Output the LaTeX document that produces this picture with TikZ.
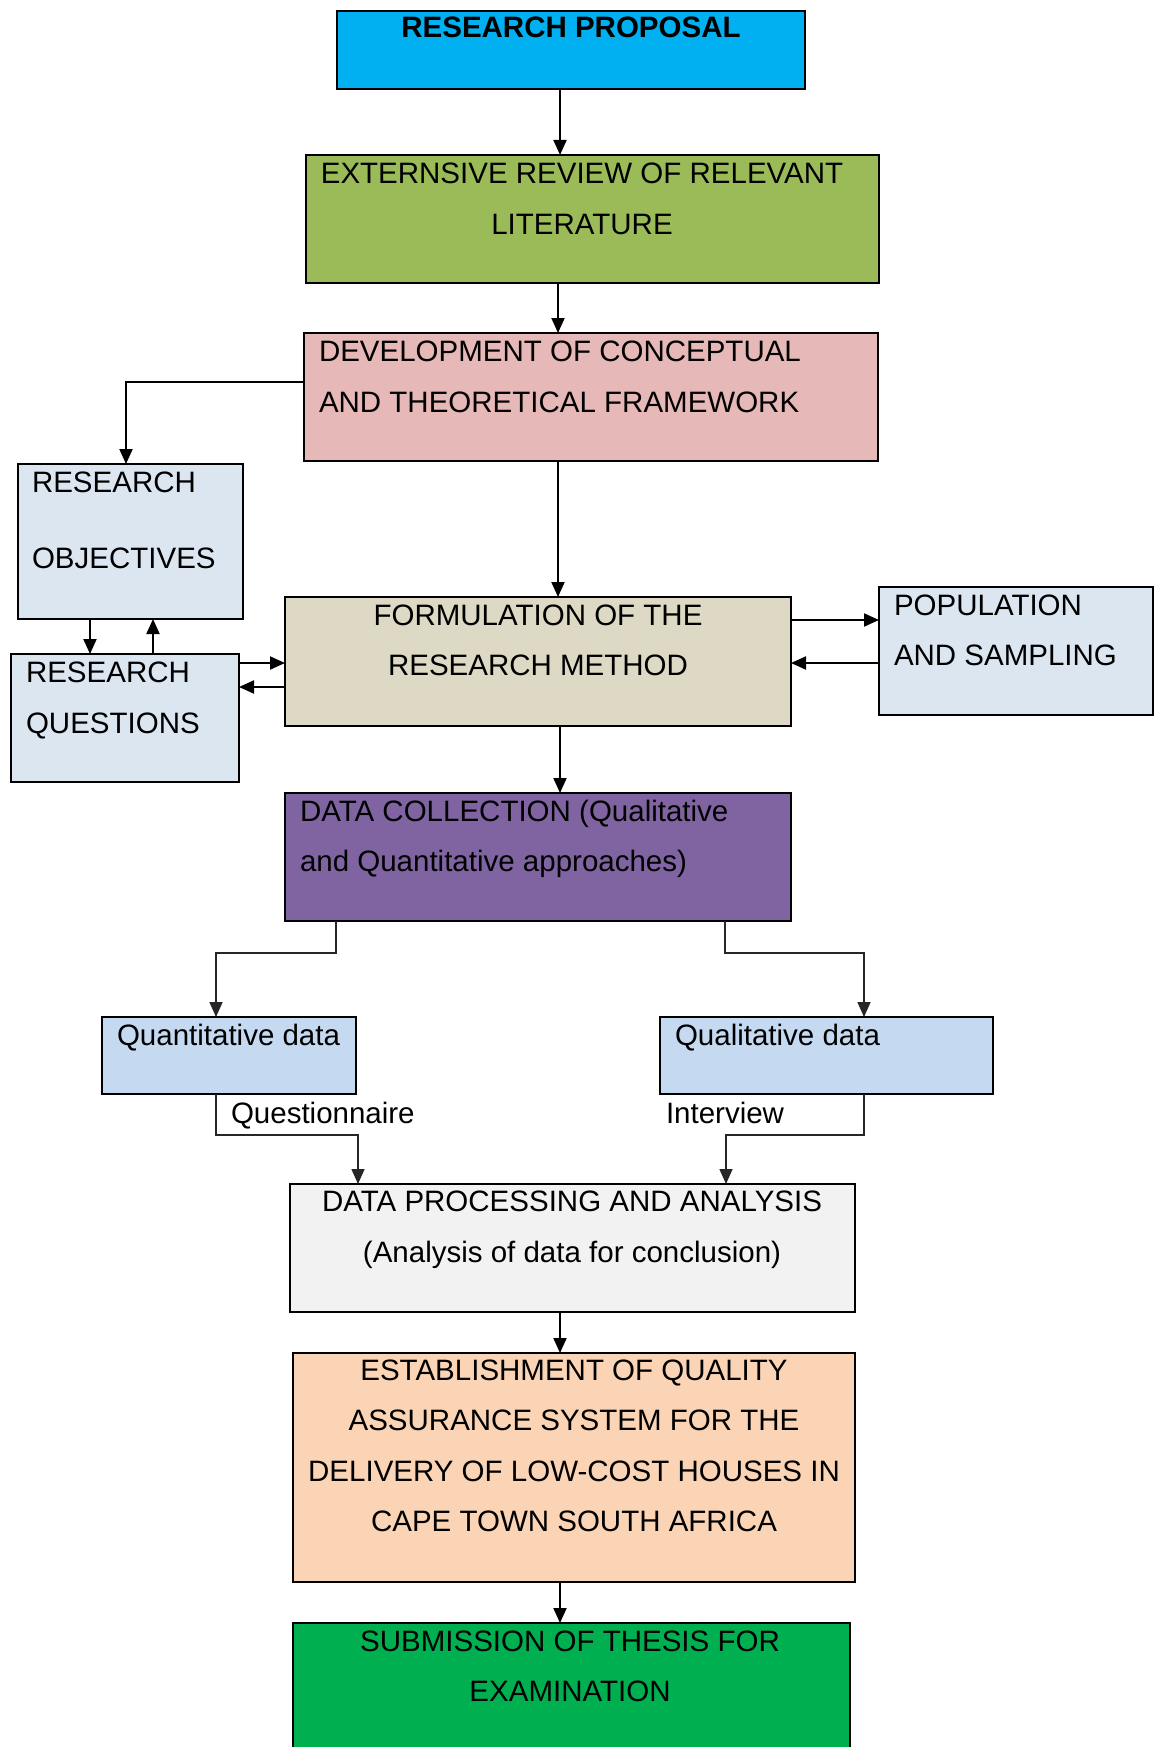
\documentclass[tikz,border=0pt]{standalone}
\usepackage{fontspec}
\setmainfont{Liberation Sans}
\usetikzlibrary{arrows.meta}
\definecolor{cRP}{HTML}{00B0F0}
\definecolor{cLit}{HTML}{9BBB59}
\definecolor{cDev}{HTML}{E6B8B7}
\definecolor{cSide}{HTML}{DCE6F1}
\definecolor{cForm}{HTML}{DDD9C4}
\definecolor{cDC}{HTML}{8064A2}
\definecolor{cQ}{HTML}{C5D9F1}
\definecolor{cDPA}{HTML}{F2F2F2}
\definecolor{cEst}{HTML}{FAD4B4}
\definecolor{cSub}{HTML}{00B050}
\tikzset{
  box/.style={draw=black, line width=2pt, rectangle, inner sep=0pt, outer sep=0pt},
  txt/.style={font=\fontsize{29.5}{29.5}\selectfont, inner sep=0pt, outer sep=0pt, anchor=base},
  txtl/.style={txt, anchor=base west},
  arr/.style={line width=2pt, -{Triangle[length=15pt,width=13pt]}},
  arrg/.style={line width=1.6pt, draw=black!85, -{Triangle[length=15pt,width=13pt]}}
}
\begin{document}
\begin{tikzpicture}[x=1pt,y=-1pt]
\clip (0,0) rectangle (1155,1747);
\fill[white] (0,0) rectangle (1155,1747);
% boxes
\node[box, fill=cRP, minimum width=468pt, minimum height=78pt] (rp) at (571,50) {};
\node[box, fill=cLit, minimum width=573pt, minimum height=128pt] (lit) at (592.5,219) {};
\node[box, fill=cDev, minimum width=574pt, minimum height=128pt] (dev) at (591,397) {};
\node[box, fill=cSide, minimum width=225pt, minimum height=155pt] (ro) at (130.5,541.5) {};
\node[box, fill=cSide, minimum width=228pt, minimum height=128pt] (rq) at (125,718) {};
\node[box, fill=cForm, minimum width=506pt, minimum height=129pt] (form) at (538,661.5) {};
\node[box, fill=cSide, minimum width=274pt, minimum height=128pt] (pop) at (1016,651) {};
\node[box, fill=cDC, minimum width=506pt, minimum height=128pt] (dc) at (538,857) {};
\node[box, fill=cQ, minimum width=254pt, minimum height=77pt] (quant) at (229,1055.5) {};
\node[box, fill=cQ, minimum width=333pt, minimum height=77pt] (qual) at (826.5,1055.5) {};
\node[box, fill=cDPA, minimum width=565pt, minimum height=128pt] (dpa) at (572.5,1248) {};
\node[box, fill=cEst, minimum width=562pt, minimum height=229pt] (est) at (574,1467.5) {};
\node[box, fill=cSub, minimum width=557pt, minimum height=154pt] (sub) at (571.5,1700) {};
% texts
\node[txt, font=\fontsize{29.5}{29.5}\selectfont\bfseries] (t1) at (571,38) {RESEARCH PROPOSAL};
\node[txt] (t2) at (582,183) {EXTERNSIVE REVIEW OF RELEVANT};
\node[txt] (t3) at (582,234) {LITERATURE};
\node[txtl] (t4) at (319,361) {DEVELOPMENT OF CONCEPTUAL};
\node[txtl] (t5) at (319,412) {AND THEORETICAL FRAMEWORK};
\node[txtl] (t6) at (32,492) {RESEARCH};
\node[txtl] (t7) at (32,568) {OBJECTIVES};
\node[txtl] (t8) at (26,682) {RESEARCH};
\node[txtl] (t9) at (26,733) {QUESTIONS};
\node[txt] (t10) at (538,625) {FORMULATION OF THE};
\node[txt] (t11) at (538,675) {RESEARCH METHOD};
\node[txtl] (t12) at (894,615) {POPULATION};
\node[txtl] (t13) at (894,665) {AND SAMPLING};
\node[txtl] (t14) at (300,821) {DATA COLLECTION (Qualitative};
\node[txtl] (t15) at (300,871) {and Quantitative approaches)};
\node[txtl] (t16) at (117,1045) {Quantitative data};
\node[txtl] (t17) at (675,1045) {Qualitative data};
\node[txtl] (t18) at (231,1123) {Questionnaire};
\node[txtl] (t19) at (666,1123) {Interview};
\node[txt] (t20) at (572,1211) {DATA PROCESSING AND ANALYSIS};
\node[txt] (t21) at (572,1262) {(Analysis of data for conclusion)};
\node[txt] (t22) at (574,1380) {ESTABLISHMENT OF QUALITY};
\node[txt] (t23) at (574,1430) {ASSURANCE SYSTEM FOR THE};
\node[txt] (t24) at (574,1481) {DELIVERY OF LOW-COST HOUSES IN};
\node[txt] (t25) at (574,1531) {CAPE TOWN SOUTH AFRICA};
\node[txt] (t26) at (570,1651) {SUBMISSION OF THESIS FOR};
\node[txt] (t27) at (570,1701) {EXAMINATION};
% reference coordinates
\coordinate (x560) at (560,0);
\coordinate (x558) at (558,0);
\coordinate (x126) at (126,0);
\coordinate (y382) at (0,382);
\coordinate (x90) at (90,0);
\coordinate (x153) at (153,0);
\coordinate (y663) at (0,663);
\coordinate (y687) at (0,687);
\coordinate (y620) at (0,620);
\coordinate (x336) at (336,0);
\coordinate (x216) at (216,0);
\coordinate (x725) at (725,0);
\coordinate (x864) at (864,0);
\coordinate (y953) at (0,953);
\coordinate (y1135) at (0,1135);
\coordinate (x358) at (358,0);
\coordinate (x726) at (726,0);
% connectors
\draw[arr] (rp.south -| x560) -- (lit.north -| x560);
\draw[arr] (lit.south -| x558) -- (dev.north -| x558);
\draw[arr] (dev.south -| x558) -- (form.north -| x558);
\draw[arr] (dev.west |- y382) -- (x126 |- y382) -- (ro.north -| x126);
\draw[arr] (ro.south -| x90) -- (rq.north -| x90);
\draw[arr] (rq.north -| x153) -- (ro.south -| x153);
\draw[arr] (rq.east |- y663) -- (form.west |- y663);
\draw[arr] (form.west |- y687) -- (rq.east |- y687);
\draw[arr] (form.east |- y620) -- (pop.west |- y620);
\draw[arr] (pop.west |- y663) -- (form.east |- y663);
\draw[arr] (form.south -| x560) -- (dc.north -| x560);
\draw[arrg] (dc.south -| x336) -- (x336 |- y953) -- (x216 |- y953) -- (quant.north -| x216);
\draw[arrg] (dc.south -| x725) -- (x725 |- y953) -- (x864 |- y953) -- (qual.north -| x864);
\draw[arrg] (quant.south -| x216) -- (x216 |- y1135) -- (x358 |- y1135) -- (dpa.north -| x358);
\draw[arrg] (qual.south -| x864) -- (x864 |- y1135) -- (x726 |- y1135) -- (dpa.north -| x726);
\draw[arr] (dpa.south -| x560) -- (est.north -| x560);
\draw[arr] (est.south -| x560) -- (sub.north -| x560);
\end{tikzpicture}
\end{document}
